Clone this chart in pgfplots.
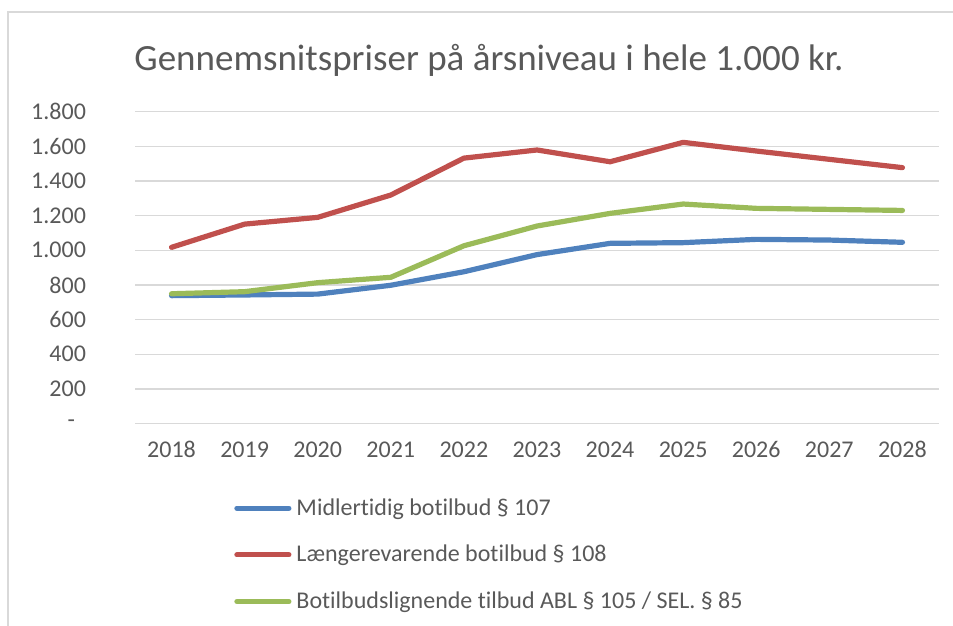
\documentclass[border=0pt]{standalone}
\usepackage{fontspec}
\setmainfont[Ligatures={NoCommon}]{Carlito}
\usepackage{pgfplots}
\pgfplotsset{compat=1.18}
\definecolor{sblue}{HTML}{4F81BD}
\definecolor{sred}{HTML}{C0504D}
\definecolor{sgreen}{HTML}{9BBB59}
\definecolor{gridgray}{HTML}{D9D9D9}
\definecolor{txtgray}{HTML}{595959}
\begin{document}
\begin{tikzpicture}[x=1pt,y=1pt]
\useasboundingbox (0,0) rectangle (476.5,313);
\draw[gridgray, line width=1pt] (4,0) -- (4,307) -- (476.5,307);
\node[text=txtgray, font=\fontsize{18.5}{22}\selectfont] at (244.5,283) {Gennemsnitspriser på årsniveau i hele 1.000 kr.};
\begin{axis}[
  at={(67.5pt,101.25pt)}, anchor=south west,
  scale only axis, width=402pt, height=155.9pt,
  xmin=2017.5, xmax=2028.5, ymin=0, ymax=1800,
  axis line style={draw=none},
  major tick length=0pt,
  xtick={2018,...,2028},
  xticklabels={2018,2019,2020,2021,2022,2023,2024,2025,2026,2027,2028},
  ytick={0,200,...,1800},
  yticklabels={-\hspace*{5.5pt},200,400,600,800,1.000,1.200,1.400,1.600,1.800},
  ymajorgrids,
  grid style={gridgray, line width=0.7pt},
  tick label style={text=txtgray, font=\fontsize{12}{14}\selectfont},
  yticklabel style={xshift=-21pt},
  xticklabel style={yshift=-5.5pt},
  /pgf/number format/assume math mode=true,
  legend style={at={(0.123,-0.226)}, anchor=north west, draw=none, fill=none,
    inner sep=0pt, row sep=9.5pt, font=\fontsize{12}{14}\selectfont, text=txtgray,
    nodes={inner xsep=2.5pt}},
  legend cell align=left,
  legend image code/.code={\draw[#1, line cap=round] (0pt,0pt) -- (26pt,0pt);},
  every axis plot/.append style={line width=2.6pt, line join=round, line cap=round},
]
\addplot[sblue] coordinates {(2018,738) (2019,742) (2020,747) (2021,798) (2022,876) (2023,975) (2024,1040) (2025,1044) (2026,1063) (2027,1059) (2028,1046)};
\addlegendentry{Midlertidig botilbud § 107}
\addplot[sred] coordinates {(2018,1017) (2019,1151) (2020,1190) (2021,1319) (2022,1532) (2023,1579) (2024,1511) (2025,1623) (2026,1573) (2027,1525) (2028,1477)};
\addlegendentry{Længerevarende botilbud § 108}
\addplot[sgreen] coordinates {(2018,749) (2019,761) (2020,813) (2021,844) (2022,1026) (2023,1140) (2024,1213) (2025,1267) (2026,1242) (2027,1236) (2028,1230)};
\addlegendentry{Botilbudslignende tilbud ABL § 105 / SEL. § 85}
\end{axis}
\end{tikzpicture}
\end{document}
